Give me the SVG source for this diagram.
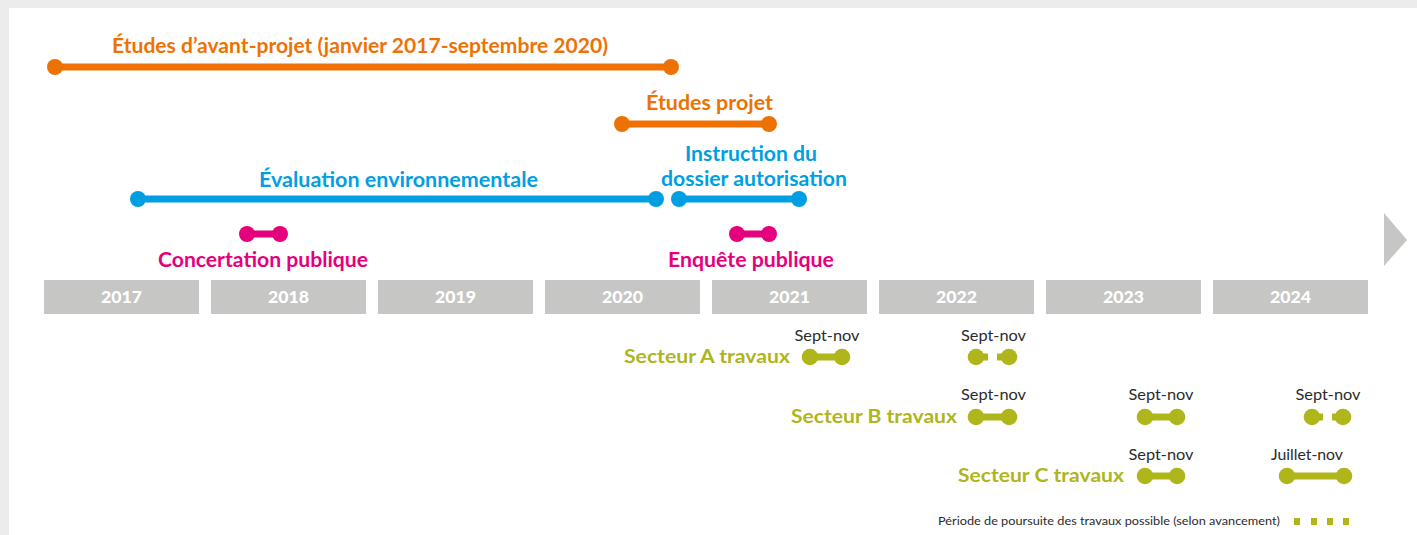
<svg xmlns="http://www.w3.org/2000/svg" width="1417" height="535" viewBox="0 0 1417 535">
<style>
.bold{font-family:Lato,"Open Sans","Liberation Sans",sans-serif;font-weight:700;}
.reg{font-family:Lato,"Open Sans","Liberation Sans",sans-serif;font-weight:400;}
.or{fill:#ee7203;}
.bl{fill:#009fe3;}
.mg{fill:#e5007d;}
.gr{fill:#afb61b;}
.lor{stroke:#ee7203;stroke-width:7;fill:none;}
.lbl{stroke:#009fe3;stroke-width:7;fill:none;}
.lmg{stroke:#e5007d;stroke-width:7;fill:none;}
.lgr{stroke:#afb61b;stroke-width:7;fill:none;}
.yr{fill:#c6c6c5;}
.yt{font-family:Lato,"Open Sans","Liberation Sans",sans-serif;font-weight:900;font-size:16px;fill:#ffffff;text-anchor:middle;}
.sn{font-family:Lato,"Open Sans","Liberation Sans",sans-serif;font-size:15.5px;fill:#2b2b2b;text-anchor:middle;}
</style>
<rect x="0" y="0" width="1417" height="535" fill="#ececec"/>
<rect x="9" y="8" width="1408" height="527" fill="#ffffff"/>

<g id="connectors">
<line class="lor" x1="55" y1="67" x2="671" y2="67"/>
<line class="lor" x1="622" y1="124" x2="769" y2="124"/>
<line class="lbl" x1="138" y1="199" x2="656" y2="199"/>
<line class="lbl" x1="679" y1="199" x2="799" y2="199"/>
<line class="lmg" x1="247" y1="234" x2="280" y2="234"/>
<line class="lmg" x1="737" y1="234" x2="769" y2="234"/>
<line class="lgr" x1="810" y1="357" x2="842" y2="357"/>
<line class="lgr" x1="976" y1="357" x2="988" y2="357"/>
<line class="lgr" x1="997" y1="357" x2="1009" y2="357"/>
<line class="lgr" x1="976" y1="417" x2="1009" y2="417"/>
<line class="lgr" x1="1145" y1="417" x2="1177" y2="417"/>
<line class="lgr" x1="1312" y1="417" x2="1323" y2="417"/>
<line class="lgr" x1="1332" y1="417" x2="1343" y2="417"/>
<line class="lgr" x1="1145" y1="476" x2="1177" y2="476"/>
<line class="lgr" x1="1287" y1="476" x2="1344" y2="476"/>
</g>

<g id="etudes-avant-projet">
<circle class="or" cx="55" cy="67" r="8"/>
<circle class="or" cx="671" cy="67" r="8"/>
<text class="bold or" x="360" y="53" font-size="20.5" text-anchor="middle" textLength="496" lengthAdjust="spacingAndGlyphs">Études d’avant-projet (janvier 2017-septembre 2020)</text>
</g>

<g id="etudes-projet">
<circle class="or" cx="622" cy="124" r="8"/>
<circle class="or" cx="769" cy="124" r="8"/>
<text class="bold or" x="709.5" y="110" font-size="20.5" text-anchor="middle" textLength="127" lengthAdjust="spacingAndGlyphs">Études projet</text>
</g>

<g id="evaluation-env">
<circle class="bl" cx="138" cy="199" r="8"/>
<circle class="bl" cx="656" cy="199" r="8"/>
<text class="bold bl" x="398.5" y="187" font-size="20.5" text-anchor="middle" textLength="279" lengthAdjust="spacingAndGlyphs">Évaluation environnementale</text>
</g>

<g id="instruction">
<circle class="bl" cx="679" cy="199" r="8"/>
<circle class="bl" cx="799" cy="199" r="8"/>
<text class="bold bl" x="751" y="161" font-size="20.5" text-anchor="middle" textLength="132" lengthAdjust="spacingAndGlyphs">Instruction du</text>
<text class="bold bl" x="754" y="186" font-size="20.5" text-anchor="middle" textLength="186" lengthAdjust="spacingAndGlyphs">dossier autorisation</text>
</g>

<g id="concertation">
<circle class="mg" cx="247" cy="234" r="8"/>
<circle class="mg" cx="280" cy="234" r="8"/>
<text class="bold mg" x="263" y="267" font-size="20.5" text-anchor="middle" textLength="210" lengthAdjust="spacingAndGlyphs">Concertation publique</text>
</g>

<g id="enquete">
<circle class="mg" cx="737" cy="234" r="8"/>
<circle class="mg" cx="769" cy="234" r="8"/>
<text class="bold mg" x="751" y="267" font-size="20.5" text-anchor="middle" textLength="166" lengthAdjust="spacingAndGlyphs">Enquête publique</text>
</g>

<g id="years">
<rect class="yr" x="44" y="280" width="155" height="34"/>
<rect class="yr" x="211" y="280" width="155" height="34"/>
<rect class="yr" x="378" y="280" width="155" height="34"/>
<rect class="yr" x="545" y="280" width="155" height="34"/>
<rect class="yr" x="712" y="280" width="155" height="34"/>
<rect class="yr" x="879" y="280" width="155" height="34"/>
<rect class="yr" x="1046" y="280" width="155" height="34"/>
<rect class="yr" x="1213" y="280" width="155" height="34"/>
<text class="yt" x="121.5" y="303" textLength="41" lengthAdjust="spacingAndGlyphs">2017</text>
<text class="yt" x="288.5" y="303" textLength="41" lengthAdjust="spacingAndGlyphs">2018</text>
<text class="yt" x="455.5" y="303" textLength="41" lengthAdjust="spacingAndGlyphs">2019</text>
<text class="yt" x="622.5" y="303" textLength="41" lengthAdjust="spacingAndGlyphs">2020</text>
<text class="yt" x="789.5" y="303" textLength="41" lengthAdjust="spacingAndGlyphs">2021</text>
<text class="yt" x="956.5" y="303" textLength="41" lengthAdjust="spacingAndGlyphs">2022</text>
<text class="yt" x="1123.5" y="303" textLength="41" lengthAdjust="spacingAndGlyphs">2023</text>
<text class="yt" x="1290.5" y="303" textLength="41" lengthAdjust="spacingAndGlyphs">2024</text>
<polygon class="yr" points="1384,213 1407,240 1384,266"/>
</g>

<g id="secteur-a">
<text class="bold gr" x="790" y="363" font-size="19.5" text-anchor="end" textLength="166" lengthAdjust="spacingAndGlyphs">Secteur A travaux</text>
<circle class="gr" cx="810" cy="357" r="8.3"/>
<circle class="gr" cx="842" cy="357" r="8.3"/>
<text class="sn" x="827" y="341" textLength="65" lengthAdjust="spacingAndGlyphs">Sept-nov</text>
<circle class="gr" cx="976" cy="357" r="8.3"/>
<circle class="gr" cx="1009" cy="357" r="8.3"/>
<text class="sn" x="993.5" y="341" textLength="65" lengthAdjust="spacingAndGlyphs">Sept-nov</text>
</g>

<g id="secteur-b">
<text class="bold gr" x="957" y="423" font-size="19.5" text-anchor="end" textLength="166" lengthAdjust="spacingAndGlyphs">Secteur B travaux</text>
<circle class="gr" cx="976" cy="417" r="8.3"/>
<circle class="gr" cx="1009" cy="417" r="8.3"/>
<text class="sn" x="993.5" y="400" textLength="65" lengthAdjust="spacingAndGlyphs">Sept-nov</text>
<circle class="gr" cx="1145" cy="417" r="8.3"/>
<circle class="gr" cx="1177" cy="417" r="8.3"/>
<text class="sn" x="1161" y="400" textLength="65" lengthAdjust="spacingAndGlyphs">Sept-nov</text>
<circle class="gr" cx="1312" cy="417" r="8.3"/>
<circle class="gr" cx="1343" cy="417" r="8.3"/>
<text class="sn" x="1328" y="400" textLength="65" lengthAdjust="spacingAndGlyphs">Sept-nov</text>
</g>

<g id="secteur-c">
<text class="bold gr" x="1124" y="482" font-size="19.5" text-anchor="end" textLength="166" lengthAdjust="spacingAndGlyphs">Secteur C travaux</text>
<circle class="gr" cx="1145" cy="476" r="8.3"/>
<circle class="gr" cx="1177" cy="476" r="8.3"/>
<text class="sn" x="1161" y="460" textLength="65" lengthAdjust="spacingAndGlyphs">Sept-nov</text>
<circle class="gr" cx="1287" cy="476" r="8.3"/>
<circle class="gr" cx="1344" cy="476" r="8.3"/>
<text class="sn" x="1307" y="460" textLength="72" lengthAdjust="spacingAndGlyphs">Juillet-nov</text>
</g>

<g id="legend">
<text class="reg" x="1280" y="525" font-size="12" fill="#2b2b2b" text-anchor="end" textLength="342" lengthAdjust="spacingAndGlyphs">Période de poursuite des travaux possible (selon avancement)</text>
<rect class="gr" x="1294" y="518" width="6" height="7"/>
<rect class="gr" x="1311" y="518" width="6" height="7"/>
<rect class="gr" x="1327" y="518" width="6" height="7"/>
<rect class="gr" x="1343" y="518" width="6" height="7"/>
</g>
</svg>
